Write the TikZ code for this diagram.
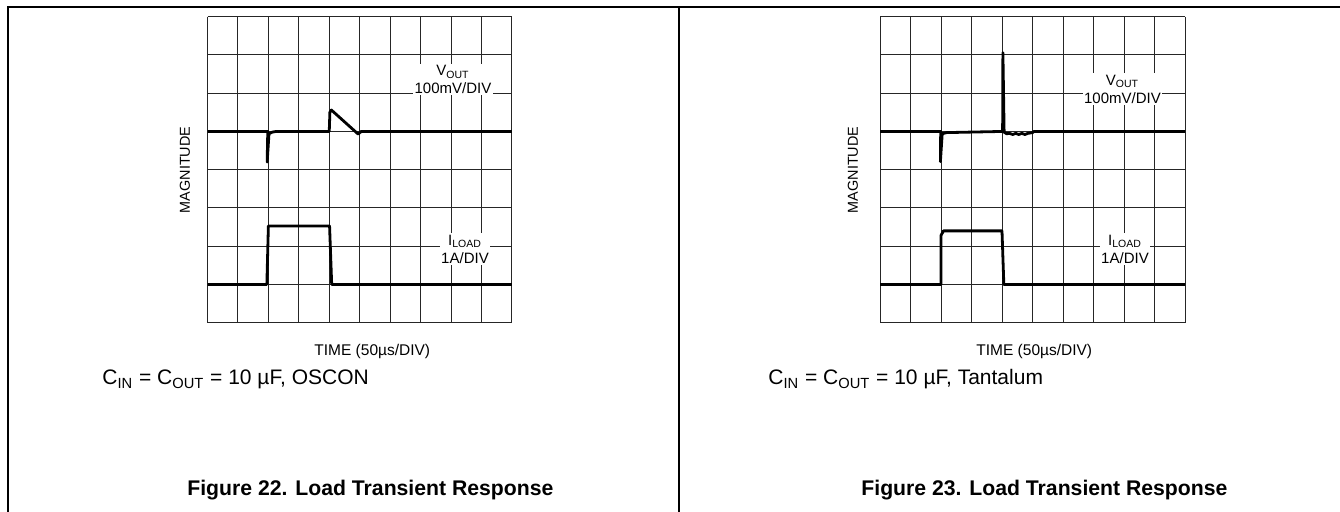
\documentclass[tikz,border=0pt]{standalone}
\usepackage{fontspec}
\setmainfont{Liberation Sans}
\tikzset{
	gridline/.style={line width=0.5pt, black!85},
	trace/.style={line width=1.4pt, line join=round},
	frameline/.style={line width=0.6pt},
	scalelbl/.style={fill=white, inner sep=0.8pt, align=center, font=\fontsize{7.5}{9}\selectfont},
	axislbl/.style={inner sep=0pt, font=\fontsize{7.5}{9}\selectfont},
	condlbl/.style={inner sep=0pt, anchor=base west, font=\fontsize{10.5}{12}\selectfont},
	caplbl/.style={inner sep=0pt, anchor=base west, font=\bfseries\fontsize{10.6}{12}\selectfont}
}
\begin{document}
\begin{tikzpicture}[x=0.5pt, y=-0.5pt]
	\useasboundingbox (0,0) rectangle (1340,512);
	\draw[frameline] (8,512) -- (8,7) -- (1340,7);
	\draw[frameline] (679,7) -- (679,512);

	% Figure 22, OSCON
	\begin{scope}[shift={(207.5,16.7)}, x=15.22pt, y=-19.125pt]
		\foreach \c in {0,...,10} \draw[gridline] (\c,0) -- (\c,8);
		\foreach \r in {0,...,8} \draw[gridline] (0,\r) -- (10,\r);
		\draw[trace] (0,3) -- (1.98,3) -- (1.96,3.8) -- (2.02,3.06) -- (2.12,3.02) -- (2.25,3) -- (4,3)
			-- (4.02,2.5) -- (4.07,2.44) -- (4.95,3.07) -- (5.05,3) -- (10,3);
		\draw[trace] (0,7) -- (1.95,7) -- (2,5.47) -- (4.01,5.47) -- (4.08,7) -- (10,7);
	\end{scope}
	\node[scalelbl] (vout22) at (453,79.5) {V\textsubscript{OUT}\\100mV/DIV};
	\node[scalelbl] (iload22) at (465,249) {I\textsubscript{LOAD}\\1A/DIV};
	\node[axislbl, rotate=90, font=\fontsize{7.2}{8}\selectfont] (mag22) at (185,170) {MAGNITUDE};
	\node[axislbl, anchor=base west, font=\fontsize{7.75}{9}\selectfont] (time22) at (314,356) {TIME (50µs/DIV)};
	\node[condlbl] (cond22) at (102,385) {C\textsubscript{IN} = C\textsubscript{OUT} = 10 µF, OSCON};
	\node[caplbl] (cap22) at (187,496) {Figure 22. Load Transient Response};

	% Figure 23, Tantalum
	\begin{scope}[shift={(880,16.7)}, x=15.25pt, y=-19.125pt]
		\foreach \c in {0,...,10} \draw[gridline] (\c,0) -- (\c,8);
		\foreach \r in {0,...,8} \draw[gridline] (0,\r) -- (10,\r);
		\draw[trace] (0,3) -- (1.99,3) -- (1.98,3.79) -- (2.04,3.06) -- (2.19,3.03) -- (4.02,3)
			-- (4.03,0.94) -- (4.07,3.02) -- (4.15,3.06) -- (4.25,3.05) -- (4.35,3.08) -- (4.45,3.05)
			-- (4.55,3.08) -- (4.65,3.05) -- (4.75,3.08) -- (4.85,3.05) -- (5,3.03) -- (5.05,3) -- (10,3);
		\draw[trace] (0,7) -- (2,7) -- (2,5.72) -- (2.08,5.6) -- (4,5.6) -- (4.06,7) -- (10,7);
	\end{scope}
	\node[scalelbl] (vout23) at (1122.5,89) {V\textsubscript{OUT}\\100mV/DIV};
	\node[scalelbl] (iload23) at (1125,249) {I\textsubscript{LOAD}\\1A/DIV};
	\node[axislbl, rotate=90, font=\fontsize{7.2}{8}\selectfont] (mag23) at (853,170) {MAGNITUDE};
	\node[axislbl, anchor=base west, font=\fontsize{7.75}{9}\selectfont] (time23) at (976,356) {TIME (50µs/DIV)};
	\node[condlbl] (cond23) at (768,385) {C\textsubscript{IN} = C\textsubscript{OUT} = 10 µF, Tantalum};
	\node[caplbl] (cap23) at (861,496) {Figure 23. Load Transient Response};
\end{tikzpicture}
\end{document}
